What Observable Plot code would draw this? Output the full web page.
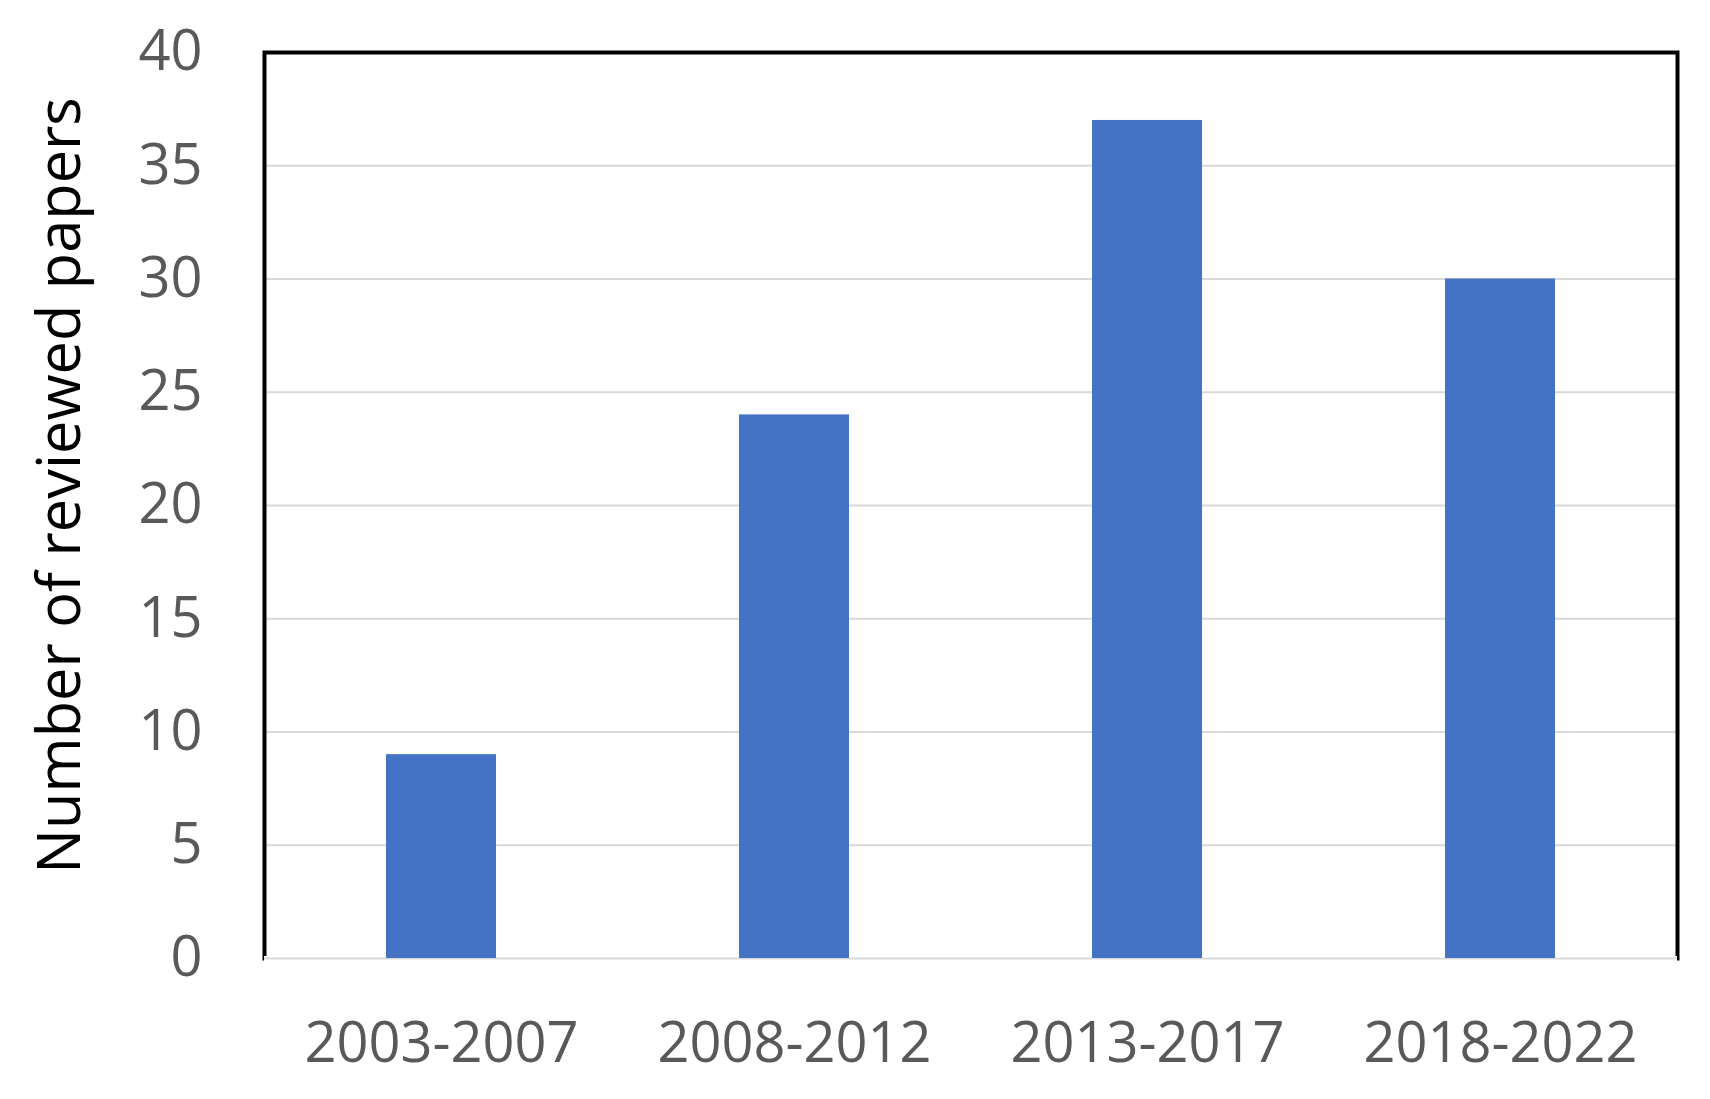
<!DOCTYPE html>
<html>
<head>
<meta charset="utf-8">
<script src="https://cdn.jsdelivr.net/npm/d3@7"></script>
<script src="https://cdn.jsdelivr.net/npm/@observablehq/plot@0.6"></script>
<style>
  html, body { margin: 0; padding: 0; background: white; }
</style>
</head>
<body>
<div id="chart"></div>
<script>
const categories = ["2003-2007", "2008-2012", "2013-2017", "2018-2022"];
const papers = [9, 24, 37, 30];
const yTicks = [0, 5, 10, 15, 20, 25, 30, 35, 40];
const gridValues = [5, 10, 15, 20, 25, 30, 35];
const yTitle = "Number of reviewed papers";

const data = categories.map((c, i) => ({period: c, n: papers[i]}));

const chart = Plot.plot({
  width: 1710,
  height: 1099,
  marginLeft: 264,
  marginRight: 33,
  marginTop: 52,
  marginBottom: 141,
  style: {fontFamily: "'Open Sans', sans-serif", fontSize: "56px", background: "white"},
  x: {domain: categories, paddingInner: 0.687, paddingOuter: 0.3435},
  y: {domain: [0, 40]},
  marks: [
    Plot.ruleY(gridValues, {stroke: "#d9d9d9", strokeWidth: 2}),
    Plot.frame({stroke: "black", strokeWidth: 4}),
    Plot.ruleY([0], {stroke: "white", strokeWidth: 5}),
    Plot.ruleY([0], {stroke: "#d9d9d9", strokeWidth: 2}),
    Plot.barY(data, {x: "period", y: "n", fill: "#4472C4"}),
    Plot.axisX({tickSize: 0, tickPadding: 64, fill: "#595959", fontSize: 56, label: null}),
    Plot.axisY({ticks: yTicks, tickSize: 0, tickPadding: 62, fill: "#595959", fontSize: 56, label: null}),
    Plot.text([yTitle], {text: d => d, frameAnchor: "left", textAnchor: "middle", rotate: -90, dx: -204, dy: -20, fill: "black", fontSize: 59.5})
  ]
});
document.getElementById("chart").appendChild(chart);
</script>
</body>
</html>
